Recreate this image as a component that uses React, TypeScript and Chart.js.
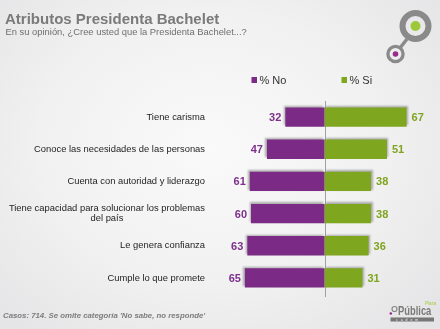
import React, { useEffect, useRef } from "react";
import { Chart, registerables } from "chart.js";

Chart.register(...registerables);

const categories: (string | string[])[] = [
  "Tiene carisma",
  "Conoce las necesidades de las personas",
  "Cuenta con autoridad y liderazgo",
  ["Tiene capacidad para solucionar los problemas", "del país"],
  "Le genera confianza",
  "Cumple lo que promete",
];
const noValues = [32, 47, 61, 60, 63, 65];
const siValues = [67, 51, 38, 38, 36, 31];
const seriesNames = ["% No", "% Si"];
const titleText = "Atributos Presidenta Bachelet";
const subtitleText = "En su opinión, ¿Cree usted que la Presidenta Bachelet...?";
const footerText = "Casos: 714. Se omite categoría 'No sabe, no responde'";

const PURPLE = "#7b2b86";
const GREEN = "#7ea61f";
const FONT = "'Liberation Sans', Arial, sans-serif";

const decorPlugin = {
  id: "decor",
  beforeDatasetsDraw(chart: any) {
    const ctx = chart.ctx;
    const x0 = chart.scales.x.getPixelForValue(0);
    ctx.save();
    ctx.strokeStyle = "#a0a0a0";
    ctx.lineWidth = 1;
    ctx.beginPath();
    ctx.moveTo(Math.round(x0) + 0.5, chart.chartArea.top);
    ctx.lineTo(Math.round(x0) + 0.5, chart.chartArea.bottom + 3);
    ctx.stroke();
    ctx.restore();
  },
  beforeDatasetDraw(chart: any, args: any) {
    const ctx = chart.ctx;
    ctx.save();
    ctx.shadowColor = "rgba(0,0,0,0.3)";
    ctx.shadowBlur = 2;
    ctx.shadowOffsetX = args.index === 0 ? -1.5 : 1.5;
    ctx.shadowOffsetY = -1.5;
  },
  afterDatasetDraw(chart: any) {
    chart.ctx.restore();
  },
  afterDraw(chart: any) {
    const ctx = chart.ctx;
    ctx.save();
    // title
    ctx.textBaseline = "alphabetic";
    ctx.textAlign = "left";
    ctx.fillStyle = "#7a7a7a";
    ctx.font = `bold 15px ${FONT}`;
    ctx.fillText(titleText, 5, 24);
    ctx.fillStyle = "#6f6f6f";
    ctx.font = `9.4px ${FONT}`;
    ctx.fillText(subtitleText, 5.5, 35);
    // footer
    ctx.fillStyle = "#7c7c7c";
    ctx.font = `italic bold 7.8px ${FONT}`;
    ctx.fillText(footerText, 3, 318);

    // legend
    ctx.font = `11px ${FONT}`;
    ctx.fillStyle = "#333";
    ctx.textBaseline = "middle";
    const legendX = [251.5, 341.5];
    const colors = [PURPLE, GREEN];
    seriesNames.forEach((n, i) => {
      ctx.fillStyle = colors[i];
      ctx.fillRect(legendX[i], 77, 5.5, 6);
      ctx.fillStyle = "#333";
      ctx.fillText(n, legendX[i] + 8, 80.5);
    });

    // category labels
    const yScale = chart.scales.y;
    ctx.fillStyle = "#1e1e1e";
    ctx.font = `9.4px ${FONT}`;
    categories.forEach((c, i) => {
      const y = yScale.getPixelForValue(i);
      if (Array.isArray(c)) {
        const w = Math.max(...c.map((l) => ctx.measureText(l).width));
        const cx = 205 - w / 2;
        ctx.textAlign = "center";
        c.forEach((l, j) => {
          ctx.fillText(l, cx, y + (j - (c.length - 1) / 2) * 10.5);
        });
      } else {
        ctx.textAlign = "right";
        ctx.fillText(c, 205, y);
      }
    });

    // value labels
    ctx.font = `bold 11px ${FONT}`;
    const m0 = chart.getDatasetMeta(0);
    const m1 = chart.getDatasetMeta(1);
    m0.data.forEach((el: any, i: number) => {
      ctx.fillStyle = "#7d2f8c";
      ctx.textAlign = "right";
      ctx.fillText(String(noValues[i]), el.x - 4, el.y + 1);
    });
    m1.data.forEach((el: any, i: number) => {
      ctx.fillStyle = "#7fa420";
      ctx.textAlign = "left";
      ctx.fillText(String(siValues[i]), el.x + 5, el.y + 1);
    });

    // top-right logo
    ctx.strokeStyle = "#8a8a8a";
    ctx.lineWidth = 3.5;
    ctx.beginPath();
    ctx.moveTo(400, 48);
    ctx.lineTo(407, 39);
    ctx.stroke();
    ctx.lineWidth = 6;
    ctx.beginPath();
    ctx.arc(415.5, 26, 13, 0, Math.PI * 2);
    ctx.stroke();
    ctx.fillStyle = "#9cc83a";
    ctx.beginPath();
    ctx.arc(415.5, 26, 5, 0, Math.PI * 2);
    ctx.fill();
    ctx.lineWidth = 3.3;
    ctx.beginPath();
    ctx.arc(395.5, 54, 7.6, 0, Math.PI * 2);
    ctx.stroke();
    ctx.fillStyle = "#9a2a8c";
    ctx.beginPath();
    ctx.arc(395.5, 54, 2.8, 0, Math.PI * 2);
    ctx.fill();

    // bottom-right logo
    ctx.textAlign = "left";
    ctx.textBaseline = "alphabetic";
    ctx.save();
    ctx.translate(398, 315);
    ctx.scale(0.72, 1);
    ctx.fillStyle = "#7a7a7a";
    ctx.font = `bold 13px ${FONT}`;
    ctx.fillText("Pública", 0, 0);
    ctx.restore();
    ctx.fillStyle = "#a6cc44";
    ctx.font = `4.5px ${FONT}`;
    ctx.fillText("Plaza", 425, 305);
    ctx.strokeStyle = "#888";
    ctx.lineWidth = 1.2;
    ctx.beginPath();
    ctx.arc(394.5, 309, 2.5, 0, Math.PI * 2);
    ctx.stroke();
    ctx.fillStyle = "#9a2a8c";
    ctx.beginPath();
    ctx.arc(390.8, 313.5, 1.3, 0, Math.PI * 2);
    ctx.fill();
    ctx.fillStyle = "#777";
    ctx.fillRect(390.5, 317.5, 43.5, 4);
    ctx.fillStyle = "#f2f2f2";
    ctx.font = `3.5px ${FONT}`;
    ctx.fillText("c   a   d   e   m", 396, 320.8);
    ctx.restore();
  },
};

export default function App() {
  const ref = useRef<HTMLCanvasElement>(null);
  useEffect(() => {
    if (!ref.current) return;
    const chart = new Chart(ref.current, {
      type: "bar",
      data: {
        labels: categories as any,
        datasets: [
          {
            label: seriesNames[0],
            data: noValues.map((v) => -v),
            backgroundColor: PURPLE,
            grouped: false,
            barPercentage: 0.6,
            categoryPercentage: 1,
          },
          {
            label: seriesNames[1],
            data: siValues,
            backgroundColor: GREEN,
            grouped: false,
            barPercentage: 0.6,
            categoryPercentage: 1,
          },
        ],
      },
      options: {
        indexAxis: "y",
        animation: false,
        responsive: false,
        maintainAspectRatio: false,
        layout: { padding: { left: 226.5, right: 17.5, top: 101, bottom: 35 } },
        scales: {
          x: { display: false, min: -80, max: 80 },
          y: { display: false },
        },
        plugins: {
          legend: { display: false },
          tooltip: { enabled: false },
          title: { display: false },
        },
      },
      plugins: [decorPlugin],
    });
    return () => chart.destroy();
  }, []);
  return (
    <div
      style={{
        position: "fixed",
        left: 0,
        top: 0,
        width: 440,
        height: 329,
        background:
          "radial-gradient(ellipse 70% 75% at 48% 45%, #fafafa 0%, #f1f1f1 55%, #e4e4e6 100%)",
      }}
    >
      <canvas ref={ref} width={440} height={329} style={{ display: "block" }} />
    </div>
  );
}
